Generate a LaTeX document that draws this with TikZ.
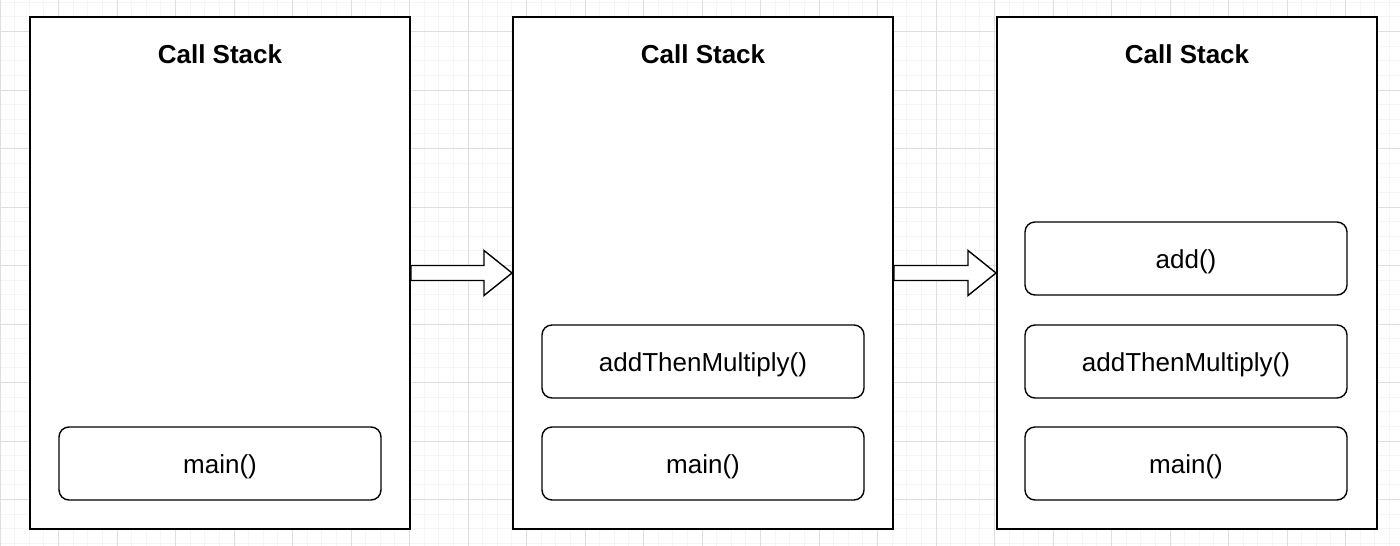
\documentclass[tikz,border=0pt]{standalone}
\usepackage{fontspec}
\setmainfont{Liberation Sans}
\usetikzlibrary{calc}
\begin{document}
\begin{tikzpicture}[x=1pt,y=-1pt,
  stackbox/.style={draw=black, line width=2pt, fill=white, minimum width=380pt, minimum height=512pt, inner sep=0pt},
  frame/.style={draw=black, line width=1.4pt, fill=white, rounded corners=10pt, minimum width=322pt, minimum height=73pt, inner sep=0pt, text height=25pt, text depth=5.5pt, font=\fontsize{26}{30}\selectfont},
  ttl/.style={font=\bfseries\fontsize{26}{30}\selectfont, inner sep=0pt},
  blockarrow/.style={draw=black, line width=1.4pt, fill=white, line join=miter},
  minorgrid/.style={draw=black!4, line width=0.8pt},
  majorgrid/.style={draw=black!13, line width=0.8pt}]
\useasboundingbox (0,0) rectangle (1400,546);
\fill[white] (0,0) rectangle (1400,546);
% grid
\foreach \i in {0,...,96} {
  \draw[minorgrid] ({\i*14.625},0) -- ({\i*14.625},546);
}
\foreach \j in {-2,...,38} {
  \draw[minorgrid] (0,{31.5+\j*14.625}) -- (1400,{31.5+\j*14.625});
}
\foreach \i in {0,...,24} {
  \draw[majorgrid] ({\i*58.5},0) -- ({\i*58.5},546);
}
\foreach \j in {0,...,9} {
  \draw[majorgrid] (0,{31.5+\j*58.5}) -- (1400,{31.5+\j*58.5});
}
% stacks
\node[stackbox] (b1) at (220,273) {};
\node[stackbox] (b2) at (703,273) {};
\node[stackbox] (b3) at (1187,273) {};
\node[ttl] (t1) at (220,54) {Call Stack};
\node[ttl] (t2) at (703,54) {Call Stack};
\node[ttl] (t3) at (1187,54) {Call Stack};
% frames
\node[frame] (m1) at (220,463.5) {main()};
\node[frame] (a2) at (703,361.5) {addThenMultiply()};
\node[frame] (m2) at (703,463.5) {main()};
\node[frame] (d3) at (1186,258.5) {add()};
\node[frame] (a3) at (1186,361.5) {addThenMultiply()};
\node[frame] (m3) at (1186,463.5) {main()};
% block arrows
\coordinate (s1) at (b1.east);
\coordinate (e1) at (b2.west);
\draw[blockarrow] ($(s1)+(0,-7.5)$) -- ($(e1)+(-28,-7.5)$) -- ($(e1)+(-28,-22.5)$) -- (e1)
  -- ($(e1)+(-28,22.5)$) -- ($(e1)+(-28,7.5)$) -- ($(s1)+(0,7.5)$) -- cycle;
\coordinate (s2) at (b2.east);
\coordinate (e2) at (b3.west);
\draw[blockarrow] ($(s2)+(0,-7.5)$) -- ($(e2)+(-28,-7.5)$) -- ($(e2)+(-28,-22.5)$) -- (e2)
  -- ($(e2)+(-28,22.5)$) -- ($(e2)+(-28,7.5)$) -- ($(s2)+(0,7.5)$) -- cycle;
\end{tikzpicture}
\end{document}
